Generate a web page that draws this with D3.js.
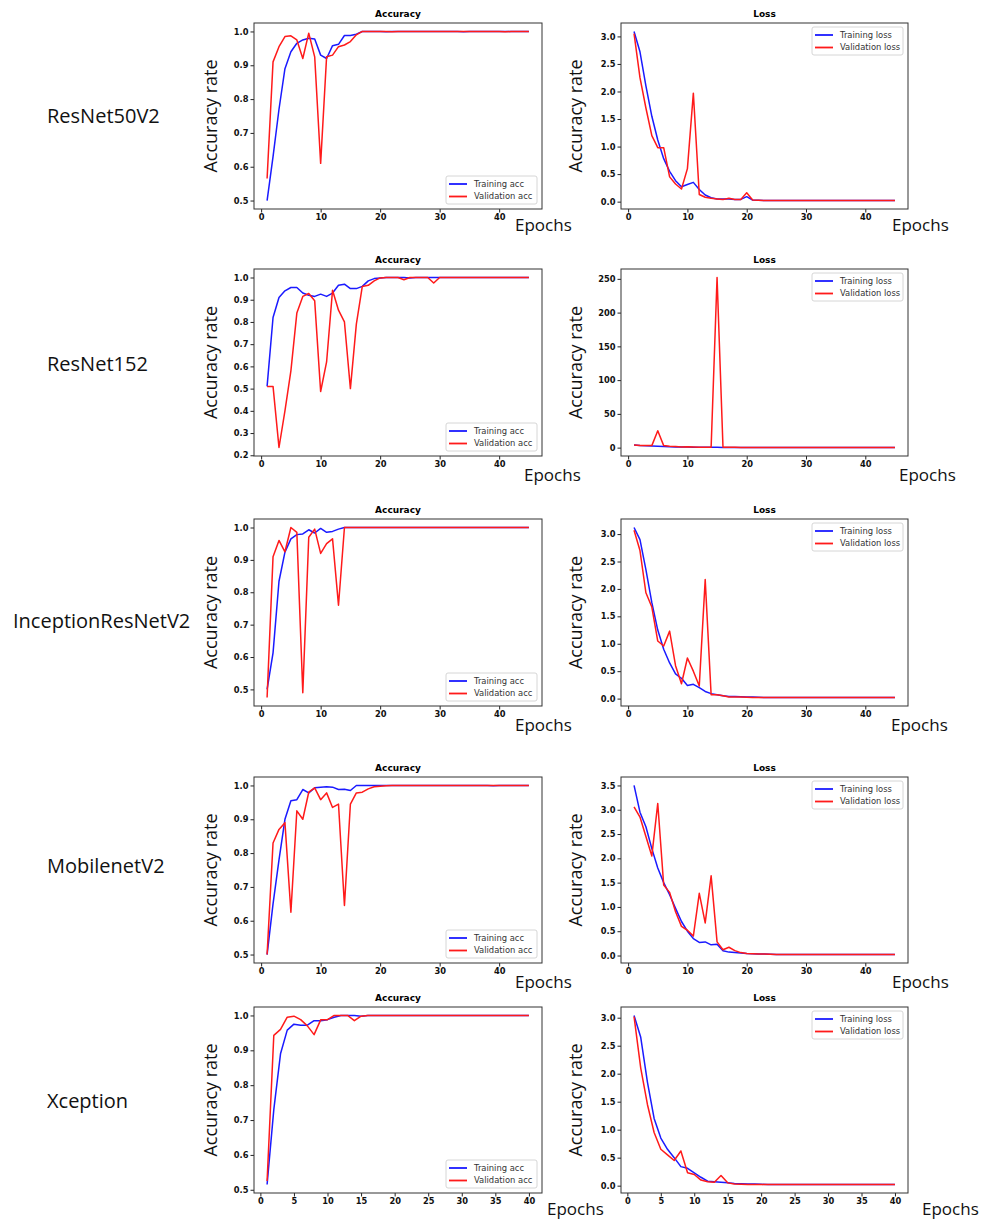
<!DOCTYPE html>
<html>
<head>
<meta charset="utf-8">
<script src="https://cdn.jsdelivr.net/npm/d3@7"></script>
<style>
  body { margin: 0; background: #fff; }
  .tick text { font-family: "DejaVu Sans", sans-serif; font-weight: bold; font-size: 8.3px; fill: #111; }
  .tick line { stroke: #222; }
</style>
</head>
<body>
<svg id="chart" width="987" height="1222"></svg>
<script>
// model names shown on the left
var models = ["ResNet50V2", "ResNet152", "InceptionResNetV2", "MobilenetV2", "Xception"];

// ResNet50V2
var resnet50AccTrain = [0.50,0.63,0.77,0.89,0.94,0.965,0.975,0.98,0.978,0.93, 0.92,0.958,0.962,0.988,0.988,0.992,1.0,1.0,1.0,1.0, 0.999,1.0,1.0,1.0,1.0,1.0,1.0,1.0,1.0,1.0, 1.0,1.0,1.0,0.999,1.0,1.0,1.0,1.0,1.0,1.0, 1.0,1.0,1.0,1.0,1.0];
var resnet50AccVal = [0.565,0.91,0.955,0.985,0.987,0.975,0.92,0.995,0.925,0.61, 0.925,0.93,0.955,0.96,0.97,0.99,1.0,1.0,1.0,1.0, 1.0,0.999,1.0,1.0,1.0,1.0,1.0,1.0,1.0,1.0, 1.0,1.0,1.0,1.0,1.0,1.0,1.0,1.0,1.0,1.0, 0.999,1.0,1.0,1.0,1.0];
var resnet50LossTrain = [3.09,2.72,2.1,1.55,1.12,0.78,0.55,0.38,0.27,0.31, 0.35,0.22,0.12,0.07,0.05,0.05,0.05,0.04,0.04,0.09, 0.03,0.025,0.02,0.02,0.02,0.02,0.02,0.02,0.02,0.02, 0.02,0.02,0.02,0.02,0.02,0.02,0.02,0.02,0.02,0.02, 0.02,0.02,0.02,0.02,0.02];
var resnet50LossVal = [3.05,2.25,1.7,1.2,0.98,0.98,0.45,0.32,0.23,0.6, 1.97,0.13,0.08,0.06,0.05,0.04,0.06,0.04,0.04,0.16, 0.03,0.025,0.02,0.02,0.02,0.02,0.02,0.02,0.02,0.02, 0.02,0.02,0.02,0.02,0.02,0.02,0.02,0.02,0.02,0.02, 0.02,0.02,0.02,0.02,0.02];

// ResNet152
var resnet152AccTrain = [0.51,0.82,0.91,0.94,0.955,0.955,0.93,0.92,0.915,0.925, 0.915,0.93,0.965,0.97,0.95,0.95,0.96,0.985,0.995,0.998, 1.0,1.0,1.0,1.0,0.998,1.0,1.0,1.0,1.0,1.0, 1.0,1.0,1.0,1.0,1.0,1.0,1.0,1.0,1.0,1.0, 1.0,1.0,1.0,1.0,1.0];
var resnet152AccVal = [0.51,0.51,0.235,0.40,0.58,0.84,0.915,0.928,0.895,0.487, 0.62,0.943,0.853,0.80,0.50,0.79,0.96,0.965,0.985,0.998, 1.0,1.0,1.0,0.99,1.0,1.0,1.0,1.0,0.975,1.0, 1.0,1.0,1.0,1.0,1.0,1.0,1.0,1.0,1.0,1.0, 1.0,1.0,1.0,1.0,1.0];
var resnet152LossTrain = [4.0,3.0,2.8,2.5,2.0,1.6,1.2,1.0,0.9,0.8, 0.7,0.6,0.5,0.45,0.4,0.35,0.3,0.3,0.25,0.25, 0.2,0.2,0.2,0.2,0.2,0.2,0.2,0.2,0.2,0.2, 0.2,0.2,0.2,0.2,0.2,0.2,0.2,0.2,0.2,0.2, 0.2,0.2,0.2,0.2,0.2];
var resnet152LossVal = [4.0,3.2,3.0,3.0,25.0,3.0,2.0,1.5,1.0,1.3, 1.0,0.6,0.4,0.5,252.0,0.5,0.4,0.4,0.3,0.3, 0.3,0.3,0.3,0.3,0.3,0.3,0.3,0.3,0.3,0.3, 0.3,0.3,0.3,0.3,0.3,0.3,0.3,0.3,0.3,0.3, 0.3,0.3,0.3,0.3,0.3];

// InceptionResNetV2
var inceptionAccTrain = [0.50,0.613,0.834,0.924,0.965,0.978,0.98,0.993,0.983,0.997, 0.985,0.988,0.995,1.0,1.0,1.0,1.0,1.0,1.0,1.0, 1.0,1.0,1.0,1.0,1.0,1.0,1.0,1.0,1.0,1.0, 1.0,1.0,1.0,1.0,1.0,1.0,1.0,1.0,1.0,1.0, 1.0,1.0,1.0,1.0,1.0];
var inceptionAccVal = [0.475,0.91,0.96,0.925,1.0,0.985,0.49,0.97,0.995,0.92, 0.95,0.965,0.76,1.0,1.0,1.0,1.0,1.0,1.0,1.0, 1.0,1.0,1.0,1.0,1.0,1.0,1.0,1.0,1.0,1.0, 1.0,1.0,1.0,1.0,1.0,1.0,1.0,1.0,1.0,1.0, 1.0,1.0,1.0,1.0,1.0];
var inceptionLossTrain = [3.12,2.9,2.35,1.75,1.25,0.9,0.65,0.45,0.37,0.24, 0.26,0.2,0.13,0.09,0.07,0.05,0.04,0.04,0.035,0.03, 0.03,0.025,0.02,0.02,0.02,0.02,0.02,0.02,0.02,0.02, 0.02,0.02,0.02,0.02,0.02,0.02,0.02,0.02,0.02,0.02, 0.02,0.02,0.02,0.02,0.02];
var inceptionLossVal = [3.07,2.7,1.93,1.67,1.05,0.96,1.23,0.6,0.27,0.74, 0.5,0.23,2.17,0.07,0.07,0.05,0.03,0.03,0.03,0.025, 0.02,0.02,0.02,0.02,0.02,0.02,0.02,0.02,0.02,0.02, 0.02,0.02,0.02,0.02,0.02,0.02,0.02,0.02,0.02,0.02, 0.02,0.02,0.02,0.02,0.02];

// MobilenetV2
var mobilenetAccTrain = [0.50,0.65,0.78,0.90,0.955,0.958,0.988,0.978,0.993,0.995, 0.996,0.995,0.988,0.989,0.985,1.0,1.0,1.0,1.0,1.0, 1.0,1.0,1.0,1.0,1.0,1.0,1.0,1.0,1.0,1.0, 1.0,1.0,1.0,1.0,1.0,1.0,1.0,1.0,0.999,1.0, 1.0,1.0,1.0,1.0,1.0];
var mobilenetAccVal = [0.50,0.83,0.87,0.89,0.625,0.925,0.90,0.98,0.993,0.958, 0.978,0.935,0.945,0.645,0.945,0.978,0.98,0.99,0.996,0.998, 0.999,1.0,1.0,1.0,1.0,1.0,1.0,1.0,1.0,1.0, 1.0,1.0,1.0,1.0,1.0,1.0,1.0,1.0,1.0,1.0, 1.0,1.0,1.0,1.0,1.0];
var mobilenetLossTrain = [3.5,2.95,2.65,2.2,1.8,1.5,1.25,0.97,0.7,0.5, 0.35,0.27,0.28,0.22,0.23,0.1,0.07,0.06,0.05,0.04, 0.035,0.03,0.03,0.025,0.02,0.02,0.02,0.02,0.02,0.02, 0.02,0.02,0.02,0.02,0.02,0.02,0.02,0.02,0.02,0.02, 0.02,0.02,0.02,0.02,0.02];
var mobilenetLossVal = [3.06,2.85,2.45,2.05,3.13,1.45,1.3,0.9,0.6,0.52, 0.4,1.28,0.67,1.64,0.28,0.12,0.17,0.1,0.06,0.04, 0.035,0.03,0.03,0.025,0.02,0.02,0.02,0.02,0.02,0.02, 0.02,0.02,0.02,0.02,0.02,0.02,0.02,0.02,0.02,0.02, 0.02,0.02,0.02,0.02,0.02];

// Xception (40 epochs)
var xceptionAccTrain = [0.515,0.73,0.89,0.958,0.975,0.972,0.972,0.985,0.985,0.988, 0.995,1.0,1.0,1.0,0.998,1.0,1.0,1.0,1.0,1.0, 1.0,1.0,1.0,1.0,1.0,1.0,1.0,1.0,1.0,1.0, 1.0,1.0,1.0,1.0,1.0,1.0,1.0,1.0,1.0,1.0];
var xceptionAccVal = [0.525,0.943,0.96,0.995,0.998,0.988,0.97,0.945,0.988,0.988, 1.0,1.0,1.0,0.985,0.998,1.0,1.0,1.0,1.0,1.0, 1.0,1.0,1.0,1.0,1.0,1.0,1.0,1.0,1.0,1.0, 1.0,1.0,1.0,1.0,1.0,1.0,1.0,1.0,1.0,1.0];
var xceptionLossTrain = [3.04,2.65,1.85,1.2,0.85,0.65,0.5,0.34,0.31,0.23, 0.15,0.08,0.07,0.06,0.05,0.04,0.035,0.03,0.03,0.025, 0.02,0.02,0.02,0.02,0.02,0.02,0.02,0.02,0.02,0.02, 0.02,0.02,0.02,0.02,0.02,0.02,0.02,0.02,0.02,0.02];
var xceptionLossVal = [3.02,2.1,1.45,0.95,0.65,0.55,0.45,0.62,0.23,0.2, 0.1,0.07,0.06,0.18,0.05,0.03,0.025,0.02,0.02,0.02, 0.02,0.02,0.02,0.02,0.02,0.02,0.02,0.02,0.02,0.02, 0.02,0.02,0.02,0.02,0.02,0.02,0.02,0.02,0.02,0.02];

// tick labels
var xTicks45 = [0, 10, 20, 30, 40];
var xTicks40 = [0, 5, 10, 15, 20, 25, 30, 35, 40];
var accTicksA = [0.5, 0.6, 0.7, 0.8, 0.9, 1.0];
var accTicksB = [0.2, 0.3, 0.4, 0.5, 0.6, 0.7, 0.8, 0.9, 1.0];
var lossTicks3 = [0.0, 0.5, 1.0, 1.5, 2.0, 2.5, 3.0];
var lossTicks35 = [0.0, 0.5, 1.0, 1.5, 2.0, 2.5, 3.0, 3.5];
var lossTicks250 = [0, 50, 100, 150, 200, 250];

var accSeries = [
  [resnet50AccTrain, resnet50AccVal],
  [resnet152AccTrain, resnet152AccVal],
  [inceptionAccTrain, inceptionAccVal],
  [mobilenetAccTrain, mobilenetAccVal],
  [xceptionAccTrain, xceptionAccVal]
];
var lossSeries = [
  [resnet50LossTrain, resnet50LossVal],
  [resnet152LossTrain, resnet152LossVal],
  [inceptionLossTrain, inceptionLossVal],
  [mobilenetLossTrain, mobilenetLossVal],
  [xceptionLossTrain, xceptionLossVal]
];
var accTickSets = [accTicksA, accTicksB, accTicksA, accTicksA, accTicksA];
var lossTickSets = [lossTicks3, lossTicks250, lossTicks3, lossTicks35, lossTicks3];
var xTickSets = [xTicks45, xTicks45, xTicks45, xTicks45, xTicks40];

// layout of the page (pixel positions of each row)
var rowTop = [23, 269, 519, 777, 1007];
var rowBottom = [209, 456, 706, 963, 1193];
var nameX = [47, 47, 13, 47, 47];
var nameY = [116, 364, 621, 866, 1101];
var epochsLeftX = [515, 524, 515, 515, 547];
var epochsRightX = [892, 899, 891, 892, 922];
var epochsY = [225, 475, 725, 982, 1209];

var leftFrame = [254, 542];
var rightFrame = [621, 908];

var svg = d3.select("#chart");

function drawPanel(x0, x1, y0, y1, series, xTicks, yTicks, fmt, title, labels, legendTop) {
  var g = svg.append("g");
  var n = series[0].length;
  var xPad = (n - 1) * 0.05;
  var all = series[0].concat(series[1]);
  var lo = d3.min(all), hi = d3.max(all);
  var yPad = (hi - lo) * 0.05;

  var xScale = d3.scaleLinear().domain([1 - xPad, n + xPad]).range([x0, x1]);
  var yScale = d3.scaleLinear().domain([lo - yPad, hi + yPad]).range([y1, y0]);

  var xAxis = d3.axisBottom(xScale).tickValues(xTicks).tickSize(3.5).tickPadding(2).tickFormat(d3.format("d"));
  var yAxis = d3.axisLeft(yScale).tickValues(yTicks).tickSize(3.5).tickPadding(2).tickFormat(fmt);

  g.append("g").attr("transform", "translate(0," + y1 + ")").call(xAxis)
    .call(a => a.select(".domain").remove());
  g.append("g").attr("transform", "translate(" + x0 + ",0)").call(yAxis)
    .call(a => a.select(".domain").remove());

  var line = d3.line()
    .x((d, i) => xScale(i + 1))
    .y(d => yScale(d));

  var colors = ["#1a1aff", "#ff1a1a"];
  series.forEach(function (s, k) {
    g.append("path")
      .datum(s)
      .attr("d", line)
      .attr("fill", "none")
      .attr("stroke", colors[k])
      .attr("stroke-width", 1.5)
      .attr("stroke-linejoin", "round");
  });

  // frame
  g.append("rect")
    .attr("x", x0).attr("y", y0)
    .attr("width", x1 - x0).attr("height", y1 - y0)
    .attr("fill", "none").attr("stroke", "#333").attr("stroke-width", 1);

  // title
  g.append("text")
    .attr("x", (x0 + x1) / 2)
    .attr("y", y0 - 6)
    .style("text-anchor", "middle")
    .style("font-family", "DejaVu Sans, sans-serif")
    .style("font-weight", "bold")
    .style("font-size", "9px")
    .text(title);

  // legend
  var lw = 91, lh = 28;
  var lx = x1 - 5 - lw;
  var ly = legendTop ? y0 + 4 : y1 - 5 - lh;
  var leg = g.append("g").attr("transform", "translate(" + lx + "," + ly + ")");
  leg.append("rect")
    .attr("width", lw).attr("height", lh)
    .attr("rx", 2)
    .attr("fill", "#fff").attr("fill-opacity", 0.85)
    .attr("stroke", "#ccc").attr("stroke-width", 0.8);
  labels.forEach(function (lab, k) {
    var yy = 8 + k * 12.5;
    leg.append("line")
      .attr("x1", 3).attr("x2", 21)
      .attr("y1", yy).attr("y2", yy)
      .attr("stroke", colors[k]).attr("stroke-width", 1.8);
    leg.append("text")
      .attr("x", 28).attr("y", yy)
      .attr("dy", "0.35em")
      .style("font-family", "DejaVu Sans, sans-serif")
      .style("font-size", "8.4px")
      .style("fill", "#333")
      .text(lab);
  });
}

function bigText(x, y, txt, size, anchor, rotate) {
  var t = svg.append("text")
    .style("font-family", "Open Sans, sans-serif")
    .style("font-size", size + "px")
    .style("fill", "#111")
    .style("text-anchor", anchor)
    .attr("dy", "0.35em")
    .text(txt);
  if (rotate) {
    t.attr("transform", "translate(" + x + "," + y + ") rotate(-90)");
  } else {
    t.attr("x", x).attr("y", y);
  }
}

models.forEach(function (name, r) {
  var y0 = rowTop[r], y1 = rowBottom[r];
  var mid = (y0 + y1) / 2;
  var lossFmt = lossTickSets[r] === lossTicks250 ? d3.format("d") : d3.format(".1f");

  drawPanel(leftFrame[0], leftFrame[1], y0, y1, accSeries[r], xTickSets[r], accTickSets[r],
    d3.format(".1f"), "Accuracy", ["Training acc", "Validation acc"], false);
  drawPanel(rightFrame[0], rightFrame[1], y0, y1, lossSeries[r], xTickSets[r], lossTickSets[r],
    lossFmt, "Loss", ["Training loss", "Validation loss"], true);

  bigText(nameX[r], nameY[r], name, 20, "start", false);
  bigText(211, mid, "Accuracy rate", 18, "middle", true);
  bigText(576, mid, "Accuracy rate", 18, "middle", true);
  bigText(epochsLeftX[r], epochsY[r], "Epochs", 17, "start", false);
  bigText(epochsRightX[r], epochsY[r], "Epochs", 17, "start", false);
});
</script>
</body>
</html>
